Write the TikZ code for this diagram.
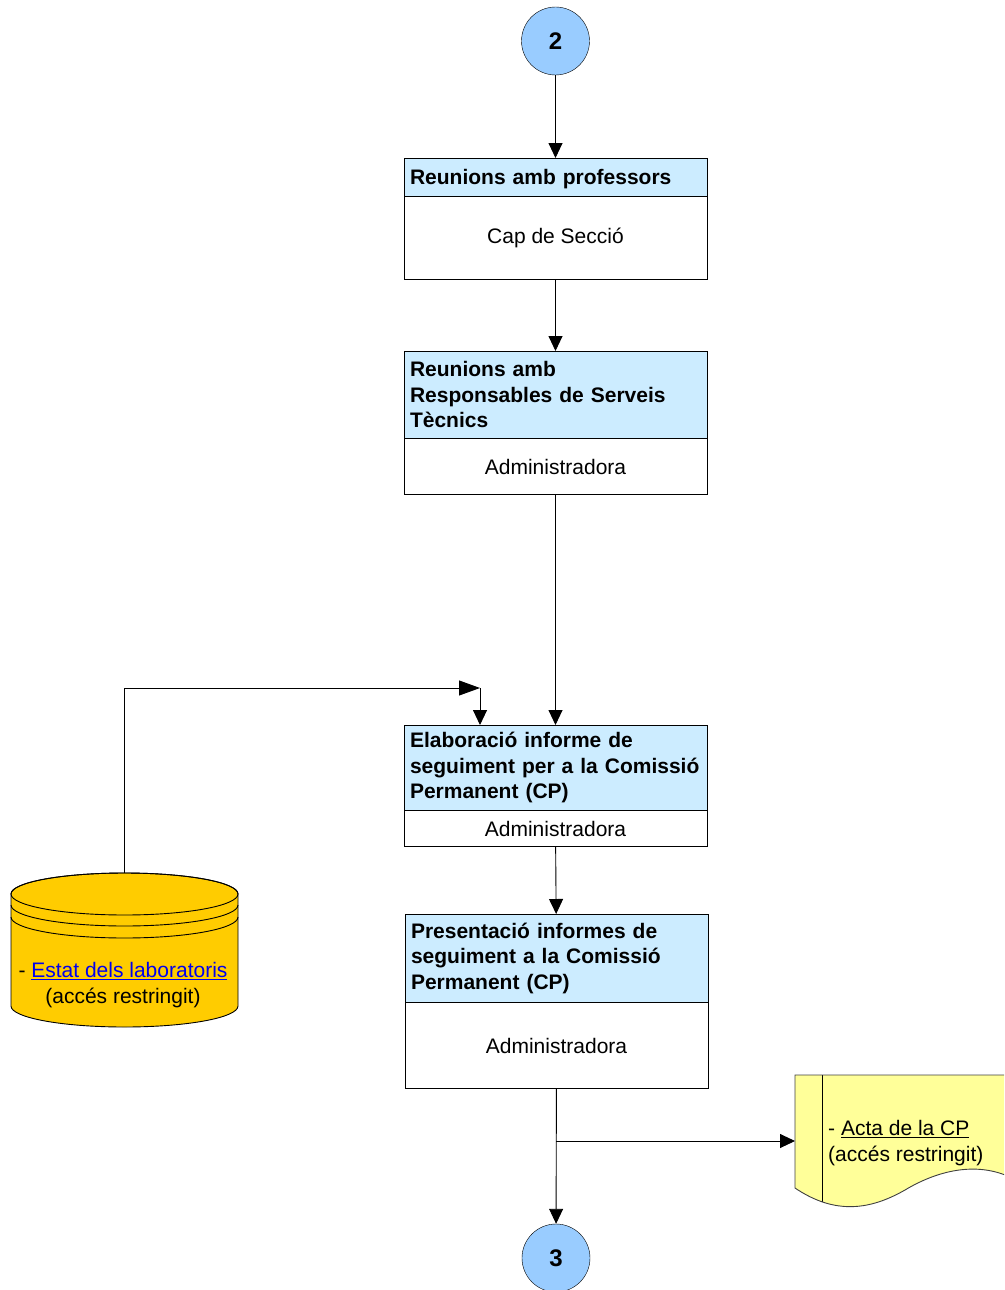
\documentclass[tikz,border=0pt]{standalone}
\usepackage{fontspec}
\setmainfont{Liberation Sans}
\usetikzlibrary{arrows.meta}
\definecolor{hdrblue}{HTML}{CCECFF}
\definecolor{circblue}{HTML}{99CCFF}
\definecolor{dbyellow}{HTML}{FFCC00}
\definecolor{docyellow}{HTML}{FFFF99}
\definecolor{linkblue}{RGB}{0,0,238}
\tikzset{
  txt/.style={font=\fontsize{21}{25.5}\selectfont},
  hdr/.style={txt, draw=black, fill=hdrblue, rectangle, minimum width=303pt,
    text width=291pt, inner xsep=6pt, inner ysep=0pt, align=left, anchor=north},
  body/.style={txt, draw=black, fill=white, rectangle, minimum width=303pt,
    inner sep=0pt, align=center, anchor=north},
  conn/.style={circle, draw=black, fill=circblue, minimum size=68pt, inner sep=0pt,
    font=\fontsize{24}{28}\selectfont\bfseries},
  flow/.style={draw=black, line width=0.9pt, -{Triangle[length=15pt,width=14pt]}},
}
\begin{document}
\begin{tikzpicture}[x=1pt,y=-1pt]
\useasboundingbox (0,0) rectangle (1004,1290);
\clip (0,0) rectangle (1004,1290);

% connectors (circles)
\node[conn] (c2) at (555.5,41) {2};
\node[conn] (c3) at (556,1258) {3};

% box 1
\node[hdr, minimum height=38pt, text depth=-1pt] (h1) at (555.5,158) {\bfseries\mbox{Reunions amb professors}};
\node[body, minimum height=83pt] (b1) at (h1.south) {Cap de Secció};
% box 2
\node[hdr, minimum height=87pt] (h2) at (555.5,351) {\bfseries\mbox{Reunions amb}\\\mbox{Responsables de Serveis}\\\mbox{Tècnics}};
\node[body, minimum height=56pt] (b2) at (h2.south) {Administradora};
% box 3
\node[hdr, minimum height=85pt] (h3) at (555.5,725) {\bfseries\mbox{Elaboració informe de}\\\mbox{seguiment per a la Comissió}\\\mbox{Permanent (CP)}};
\node[body, minimum height=36pt] (b3) at (h3.south) {Administradora};
% box 4
\node[hdr, minimum height=88pt] (h4) at (556.5,914) {\bfseries\mbox{Presentació informes de}\\\mbox{seguiment a la Comissió}\\\mbox{Permanent (CP)}};
\node[body, minimum height=86pt] (b4) at (h4.south) {Administradora};

% database
\begin{scope}[draw=black, line width=0.9pt]
  \path[fill=dbyellow, draw] (11,894) -- (11,1006)
     arc[start angle=180, end angle=0, x radius=113.5, y radius=21] -- (238,894)
     arc[start angle=0, end angle=-180, x radius=113.5, y radius=21] -- cycle;
  \draw (124.5,894) ellipse[x radius=113.5, y radius=21];
  \draw (11,905) arc[start angle=180, end angle=0, x radius=113.5, y radius=21];
  \draw (11,917) arc[start angle=180, end angle=0, x radius=113.5, y radius=21];
\end{scope}
\node[txt, align=center, inner sep=0pt] (dbtext) at (123,985)
  {- {\color{linkblue}\underline{Estat dels laboratoris}}\\(accés restringit)};
\coordinate (dbtop) at (124.5,873);

% document
\def\docpath{(795,1075) -- (1012,1075) -- (1012,1178)
   .. controls (975,1160) and (935,1172) .. (905,1190)
   .. controls (870,1210) and (835,1215) .. (795,1188) -- cycle}
\fill[docyellow] \docpath;
\begin{scope}
  \clip \docpath;
  \draw[line width=0.9pt] (822,1070) -- (822,1300);
\end{scope}
\draw[black!75, line width=0.9pt] \docpath;
\node[txt, align=left, inner sep=0pt, anchor=west] (doctext) at (828,1143)
  {- \underline{Acta de la CP}\\(accés restringit)};
\coordinate (docw) at (795,1141);

% flow lines
\draw[flow] (c2) -- (h1);
\draw[flow] (b1) -- (h2);
\draw[flow] (b2) -- (h3);
\draw[flow] (b3) -- (h4);
\draw[flow] (b4) -- (c3);
\coordinate (br) at (556,1141);
\draw[flow] (br) -- (docw);
\coordinate (bend) at (480,688);
\draw[draw=black, line width=0.9pt, -{Triangle[length=21pt,width=15pt]}] (dbtop) |- (bend);
\draw[flow] (bend) -- (bend |- h3.north);
\end{tikzpicture}
\end{document}
